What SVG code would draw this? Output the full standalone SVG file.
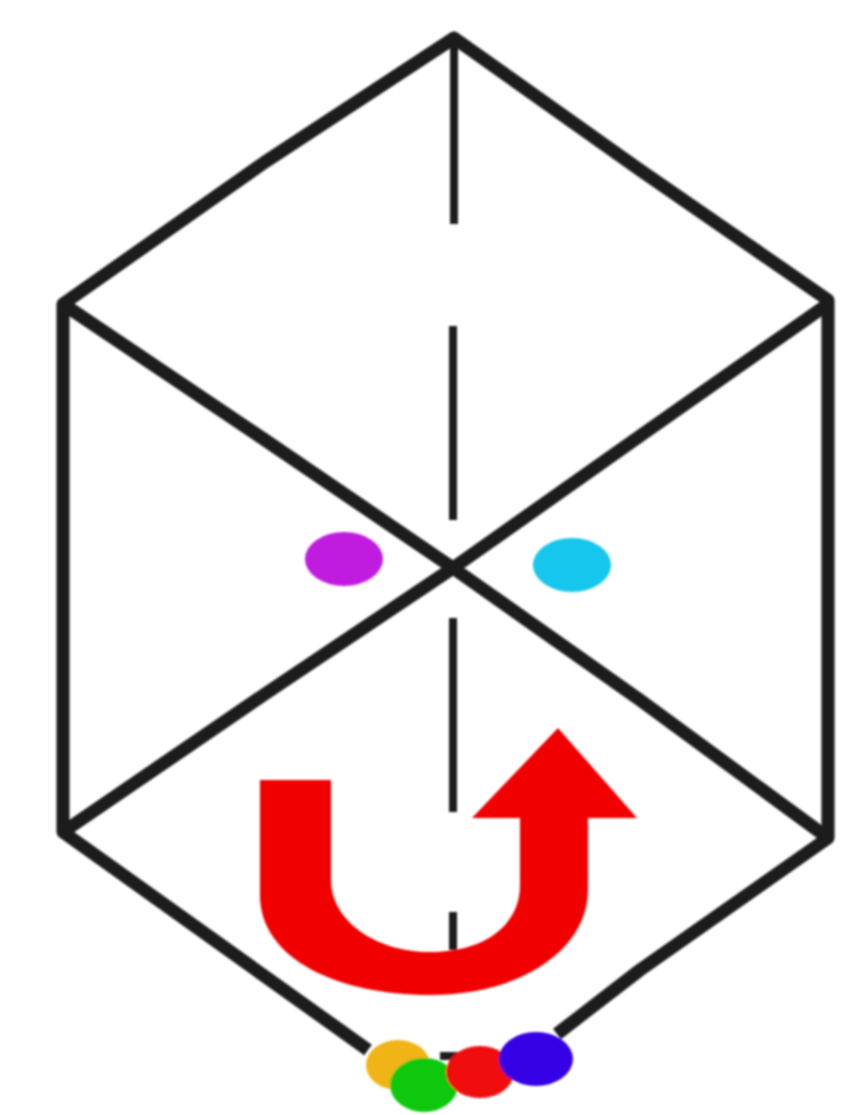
<svg xmlns="http://www.w3.org/2000/svg" width="841" height="1115" viewBox="0 0 841 1115">
<defs><filter id="soft" x="-5%" y="-5%" width="110%" height="110%"><feGaussianBlur stdDeviation="1.2"/></filter></defs>
<style>.l{fill:none;stroke:#1c1c1c;stroke-width:13;stroke-linejoin:round}.t{fill:none;stroke:#1c1c1c;stroke-width:8}</style>
<rect width="841" height="1115" fill="#fff"/>
<g filter="url(#soft)">
<g id="connectors">
<path class="l" d="M368 1050L63 832V304L265 162L454 38L640 170L828 300V838L640 970L557 1034"/>
<path class="l" d="M63 304L265 440L453 568L640 700L828 838M63 832L265 694L453 568L640 436L828 304"/>
<path class="t" d="M454 40V224M453 326V520M453 618V812M453 912V950"/>
<path class="t" d="M440 1056H462"/>
</g>
<g id="arrow"><path fill="#f00606" d="M260 780H331V880C331 920 375 952 430 952C485 952 520 925 520 885V818H472L558 728L637 818H588V890C588 950 520 995 430 995C340 995 260 960 260 895Z"/></g>
<g id="dots">
<ellipse id="magenta" cx="344" cy="559" rx="39" ry="27" fill="#c01fe0"/>
<ellipse id="cyan" cx="572" cy="565" rx="39" ry="27" fill="#12c6ec"/>
<ellipse id="orange" cx="398" cy="1065" rx="32" ry="25" fill="#f0b418"/>
<ellipse id="green" cx="424" cy="1085" rx="34" ry="27" fill="#10c810"/>
<ellipse id="red" cx="480" cy="1072" rx="34" ry="26" fill="#f00808"/>
<ellipse id="blue" cx="536" cy="1059" rx="37" ry="27" fill="#3400e4"/>
</g>
</g>
</svg>
